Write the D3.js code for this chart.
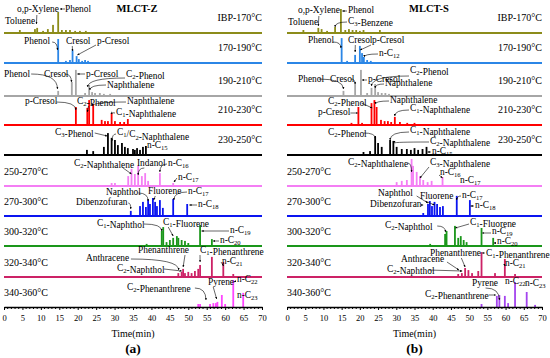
<!DOCTYPE html>
<html>
<head>
<meta charset="utf-8">
<script src="https://cdn.jsdelivr.net/npm/d3@7"></script>
<style>
body{margin:0;background:#fff}
text{font-family:"Liberation Serif","Times New Roman",serif}
</style>
</head>
<body>
<div id="chart"></div>
<script>
// x axis
var xTicks = d3.range(0, 71, 5)
var minorTicks = d3.range(0, 71, 1)
var ranges = ["IBP-170°C","170-190°C","190-210°C","210-230°C","230-250°C",
              "250-270°C","270-300°C","300-320°C","320-340°C","340-360°C"]

// MLCT-Z peaks : [retention time (min), relative intensity]
var z1 = [[4.3,10],[8.4,13],[9.0,17],[10.6,7],[11.9,13],[13.3,27],[14.7,70],[15.7,10],[16.8,10],[17.9,10],[19.3,7],[20.6,7],[22.2,7],[23.3,3],[26,3]]
var z2 = [[14.7,80],[16.8,7],[17.9,10],[18.6,43],[19.7,23],[20.3,13],[21.2,7],[22,10],[22.8,7],[23.9,3],[30.7,3]]
var z3 = [[14.7,17],[18.4,47],[19.5,87],[22,10],[23.1,37],[23.9,13],[24.7,10],[26,10],[27.1,7],[28.8,7]]
var z4 = [[19.5,60],[22.6,57],[23.1,83],[24.2,70],[26.5,17],[27.4,13],[28.2,13],[29.2,40],[30.1,13],[31.5,10],[32.6,10],[33.6,20]]
var z5 = [[22.5,17],[24.2,13],[27.1,27],[28.2,73],[29.2,57],[30.1,50],[30.9,33],[32,40],[32.8,27],[33.6,23],[35,20],[35.5,17],[36.1,23],[36.9,17],[37.7,27],[38.5,30]]
var z6 = [[29.2,10],[30.1,10],[33.7,33],[34.6,57],[35.5,40],[36.4,67],[37.4,33],[38.3,43],[39.1,17],[42.3,43],[45.9,10]]
var z7 = [[34.4,17],[36.9,33],[37.7,47],[38.5,30],[39.1,53],[39.6,40],[40.4,60],[41,47],[41.5,33],[42.3,53],[43.1,27],[45.9,57],[49.7,40]]
var z8 = [[38.7,7],[42.8,50],[43.2,63],[44.1,13],[45,20],[45.9,27],[46.9,33],[47.3,27],[48.2,20],[49.1,17],[50,10],[53.2,70],[56.4,23]]
var z9 = [[47.3,13],[48.2,17],[48.6,27],[49.1,13],[50,17],[50.9,13],[51.8,20],[52.7,27],[53.2,40],[56.4,67],[59.5,50],[62.2,10]]
var z10 = [[52.7,10],[53.2,10],[55.9,10],[56.8,13],[57.5,13],[57.9,17],[59.1,40],[60,10],[62.2,90],[64.9,47]]

// MLCT-S peaks
var s1 = [[4.5,10],[8.6,17],[9.5,13],[11,7],[13.2,20],[14.8,80],[16,10],[17,13],[18,10],[19,10],[20,7],[21,10],[25.5,10]]
var s2 = [[15,83],[16.5,7],[18.7,27],[20,57],[20.6,33],[21.1,20],[22,10],[23,7]]
var s3 = [[15.5,17],[18.7,43],[20.3,87],[22,10],[23.2,27],[24.2,40],[25,13],[26,10],[27,10],[28,7]]
var s4 = [[17.7,7],[19.6,60],[20.6,7],[23.2,73],[24,83],[24.6,60],[25.8,17],[26.8,13],[27.7,13],[28.6,10],[29.6,27],[31,10],[33,7],[35,7]]
var s5 = [[21,10],[22.8,13],[24.2,60],[25,40],[26,27],[28.3,50],[29.2,47],[30.1,27],[31.5,20],[32.9,20],[34,17],[35,23],[36,17],[37.2,20],[38.3,27]]
var s6 = [[30.1,13],[31.5,17],[32.9,20],[34.2,90],[34.6,67],[35.6,47],[36.5,33],[37.4,20],[38.6,13],[39.7,17],[42.7,30],[47.5,3]]
var s7 = [[37.4,10],[38.7,40],[39.2,50],[39.8,33],[40.5,47],[41.2,40],[42,30],[42.8,33],[46.6,67],[50.2,53]]
var s8 = [[39.3,7],[43.4,40],[43.8,50],[46.1,67],[47,27],[47.7,33],[48.5,20],[49.3,13],[53.4,60],[56.6,27]]
var s9 = [[47,10],[48,13],[48.9,30],[49.8,23],[50.8,13],[52.5,20],[53.4,83],[57.1,13],[59.8,60],[62.6,10]]
var s10 = [[53.4,10],[57.6,37],[58.3,40],[59.8,37],[60.7,13],[62.6,83],[65.8,50],[68.1,7]]

var colorsZ = ["#8c8c1a","#2b86e6","#a6a6a6","#ff0000","#000000","#f47ef4","#0a14f0","#1a961a","#cc2266","#ff44ff"]
var colorsS = ["#8c8c1a","#2b86e6","#a6a6a6","#ff0000","#000000","#f47ef4","#0a14f0","#1a961a","#cc2266","#a444ee"]

// annotations: [label, text x, text y, arrow x, arrow y, peak time, arrow end y, bend]
var annZ = [
  ["Toluene",5,24],
  ["o,p-Xylene",17,12,36,15,8.8,24],
  ["Phenol",65,12,65,9,15.2,9],
  ["Phenol",24,44,51,42,14.5,50,1],
  ["Cresol",66,44,72,46,18.6,51],
  ["p-Cresol",97,44,96,45,19.9,55],
  ["Phenol",4,77,30,74,14.5,89,1],
  ["Cresol",44,77,64,74,18.3,82,1],
  ["p-Cresol",86,77,85,74,19.9,74],
  ["C_2-Phenol",126,77,125,78,22.7,87,1],
  ["Naphthalene",107,88,106,85,23.3,90,1],
  ["p-Cresol",25,104,55,102,19.5,110,1],
  ["C_2-Phenol",77,104,88,106,22.6,112],
  ["Naphthalene",127,104,126,102,24,106,1],
  ["C_1-Naphthalene",116,115,115,113,29.2,112,1],
  ["C_3-Phenol",55,135,93,133,28,136],
  ["C_1/C_2-Naphthalene",117,135,116,134,29.3,141,1],
  ["n-C_15",147,148],
  ["C_2-Naphthalene",74,166,121,168,34.6,174],
  ["Indanol",137,166,144,168,36.4,175,1],
  ["n-C_16",168,166,167,164,42.3,172,1],
  ["n-C_17",178,180,177,178,46.1,182],
  ["Naphthol",106,195,137,193,39.1,201,1],
  ["Fluorene",148,194,155,196,40.6,200],
  ["n-C_17",188,194,187,192,46.1,200,1],
  ["Dibenzofuran",76,205,126,203,34.4,209,1],
  ["n-C_18",198,207,197,205,50.3,205],
  ["C_1-Naphthol",97,226,142,224,42.8,231,1],
  ["C_1-Fluorene",163,225,168,227,45.9,236],
  ["n-C_19",230,233,229,231,53.6,231],
  ["n-C_20",220,243,219,241,56.7,241],
  ["Anthracene",86,261,129,259,47.4,270,1],
  ["C_2-Naphthol",117,271,162,269,48.2,271],
  ["Phenanthrene",138,253,183,255,48.6,267],
  ["C_1-Phenanthrene",200,253,200,255,53.2,262],
  ["n-C_21",222,264,221,262,59.6,266],
  ["C_2-Phenanthrene",127,290,192,288,54.8,300,1],
  ["Pyrene",208,285,213,287,57.7,299],
  ["n-C_22",237,282,236,281,62.4,282],
  ["n-C_23",237,298]
]
var annS = [
  ["Toluene",288,25],
  ["o,p-Xylene",298,13,318,16,8.6,26],
  ["Phenol",348,13,347,11,15.2,11],
  ["C_3-Benzene",348,24,347,22,13.2,27,1],
  ["Phenol",308,43,332,42,14.8,48,1],
  ["Cresol",348,43,355,45,18.7,52],
  ["p-Cresol",372,43,371,45,20.1,50],
  ["n-C_12",379,56,378,54,21.2,57,1],
  ["Phenol",298,82,318,79,15.5,89,1],
  ["Cresol",330,82,350,79,18.7,84,1],
  ["p-Cresol",368,82,367,80,20.6,80],
  ["C_2-Phenol",410,73,409,76,23.2,86,1],
  ["Naphthalene",385,86,384,84,24.2,88,1],
  ["C_2-Phenol",328,104,360,103,23.4,108],
  ["Naphthalene",390,103,389,101,24.3,104,1],
  ["p-Cresol",318,115,349,113,19.4,113],
  ["C_1-Naphthalene",410,111,409,110,29.6,116,1],
  ["C_2-Phenol",328,135,362,133,24.2,138,1],
  ["C_1-Naphthalene",410,133,409,132,28.3,140,1],
  ["C_2-Naphthalene",430,144,429,142,29.5,143,1],
  ["n-C_15",432,154,431,152,38.6,152],
  ["C_2-Naphthalene",348,165,405,163,34.2,172,1],
  ["C_3-Naphthalene",430,165,429,167,36.5,178],
  ["n-C_16",440,175,439,175,42.7,178],
  ["n-C_17",460,183],
  ["Naphthol",378,196,415,196,38.7,203],
  ["Fluorene",420,199,425,201,40.5,205],
  ["n-C_17",462,198,461,196,46.6,200,1],
  ["Dibenzofuran",370,207,420,205,37.4,205],
  ["n-C_18",475,208,474,206,50.4,206],
  ["C_2-Naphthol",385,228,435,226,43.5,232,1],
  ["C_1-Fluorene",470,225,469,224,46.2,228],
  ["n-C_19",492,234,491,233,53.6,233],
  ["n-C_20",497,244,496,243,56.8,243],
  ["Phenanthrene",430,256,460,258,48.9,267],
  ["C_1-Phenanthrene",486,256,485,253,53.6,253],
  ["n-C_21",505,266,504,264,59.9,266],
  ["Anthracene",401,262,445,262,47.2,270],
  ["C_2-Naphthol",387,272,427,270,48.1,271],
  ["C_2-Phenanthrene",425,297,486,295,57.3,295],
  ["Pyrene",472,286,485,288,58.3,300,1],
  ["n-C_22",505,284],
  ["n-C_23",525,286]
]

var width = 550
var height = 358
var rowBase = [33,63,96,125,155,186,216,246,277,307]
var fs = 9.4

var panels = [
  {title:"MLCT-Z", tag:"(a)", x0:4, x1:262, rows:[z1,z2,z3,z4,z5,z6,z7,z8,z9,z10], colors:colorsZ, ann:annZ},
  {title:"MLCT-S", tag:"(b)", x0:287, x1:542, rows:[s1,s2,s3,s4,s5,s6,s7,s8,s9,s10], colors:colorsS, ann:annS}
]

var hScale = d3.scaleLinear().domain([0,100]).range([0,30])

var svg = d3.select("#chart").append("svg")
  .attr("width", width)
  .attr("height", height)

svg.append("defs").append("marker")
  .attr("id","arr")
  .attr("viewBox","0 0 10 10")
  .attr("refX",9).attr("refY",5)
  .attr("markerWidth",4).attr("markerHeight",4)
  .attr("orient","auto")
  .append("path").attr("d","M0,1L10,5L0,9z").attr("fill","#000")

// text with subscripts, "_15" -> subscript 15
function label(g, str, x, y, anchor, size){
  var t = g.append("text").attr("x",x).attr("y",y)
    .attr("font-size", size || fs).attr("text-anchor", anchor || "start")
  var parts = str.split(/_(\d+)/)
  parts.forEach(function(p,i){
    if(p==="") return
    if(i%2===1){
      t.append("tspan").attr("dy",2.3).attr("font-size",6.6).text(p)
      t.append("tspan").attr("dy",-2.3).text("")
    } else {
      t.append("tspan").text(p)
    }
  })
  return t
}

panels.forEach(function(p){
  var x = d3.scaleLinear().domain([0,70]).range([p.x0,p.x1])
  var g = svg.append("g")

  g.append("text")
    .attr("x", p.title=="MLCT-Z" ? 137 : 429).attr("y",12)
    .attr("text-anchor","middle")
    .attr("font-size",10.5).attr("font-weight","bold")
    .text(p.title)

  p.rows.forEach(function(peaks,i){
    var base = rowBase[i]
    if(i<9){
      g.append("line")
        .attr("x1",p.x0).attr("x2",p.x1)
        .attr("y1",base).attr("y2",base)
        .attr("stroke",p.colors[i]).attr("stroke-width",1.8)
    }
    g.selectAll(".pk"+i)
      .data(peaks)
      .enter()
      .append("rect")
      .attr("class","pk"+i)
      .attr("x",function(d){ return x(d[0])-0.9 })
      .attr("width",1.8)
      .attr("y",function(d){ return base-hScale(d[1]) })
      .attr("height",function(d){ return hScale(d[1]) })
      .attr("fill",p.colors[i])

    if(i<5){
      label(g, ranges[i], p.x1, base-12, "end", 10)
    } else {
      label(g, ranges[i], p.x0, base-11, "start", 10)
    }
  })

  // annotations
  p.ann.forEach(function(a){
    label(g, a[0], a[1], a[2])
    if(a[3]!==undefined){
      var sx = a[3] > a[1] ? a[1] + (a[3]-a[1])*fs/9 : a[3]
      var ex = x(a[5]), ey = a[6]
      var d = a[7] ? "M"+sx+","+a[4]+"Q"+ex+","+a[4]+" "+ex+","+ey
                   : "M"+sx+","+a[4]+"L"+ex+","+ey
      g.append("path").attr("d",d)
        .attr("fill","none").attr("stroke","#000").attr("stroke-width",0.6)
        .attr("marker-end","url(#arr)")
    }
  })

  // axis
  var ax = g.append("g").attr("transform","translate(0,"+rowBase[9]+")")
  ax.call(d3.axisBottom(x).tickValues(xTicks).tickSize(3).tickSizeOuter(0))
  ax.selectAll(".tick text").attr("font-size",8.5)
    .attr("font-family","Liberation Serif, serif").attr("dy","0.95em")
  ax.select(".domain").attr("stroke-width",1.3)
  ax.selectAll(".minor")
    .data(minorTicks.filter(function(v){ return v%5 }))
    .enter().append("line")
    .attr("class","minor")
    .attr("x1",function(d){ return x(d) }).attr("x2",function(d){ return x(d) })
    .attr("y1",0).attr("y2",2).attr("stroke","#000")

  g.append("text")
    .attr("x",(p.x0+p.x1)/2).attr("y",337)
    .attr("text-anchor","middle").attr("font-size",10)
    .text("Time(min)")
  g.append("text")
    .attr("x",(p.x0+p.x1)/2).attr("y",353)
    .attr("text-anchor","middle").attr("font-size",13.5).attr("font-weight","bold")
    .text(p.tag)
})
</script>
</body>
</html>
